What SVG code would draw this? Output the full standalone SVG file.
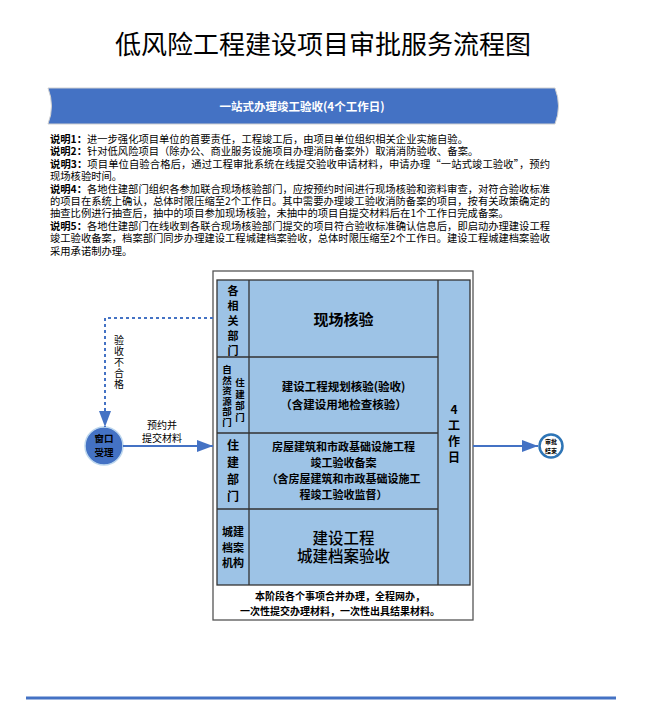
<svg xmlns="http://www.w3.org/2000/svg" width="645" height="708" viewBox="0 0 645 708">
<style>
text{font-family:"Noto Sans CJK SC","Liberation Sans",sans-serif;fill:#000}
.title{font-size:26px}
.note{font-size:10.3px}
.b{font-weight:bold}
.cell{font-weight:bold;font-size:11.5px;text-anchor:middle}
.lab{font-weight:bold;font-size:11px;text-anchor:middle}
.vert{writing-mode:vertical-rl;font-weight:bold}
.small{font-size:10px;text-anchor:middle}
.blue{fill:#9DC3E6;stroke:#333;stroke-width:1.3}
.div{stroke:#333;stroke-width:1.3;fill:none}
.conn{stroke:#4472C4;stroke-width:2;fill:none}
</style>
<defs>
<marker id="ah" viewBox="0 0 16 12" refX="16" refY="6" markerWidth="16" markerHeight="12" markerUnits="userSpaceOnUse" orient="auto">
<path d="M0,0 L16,6 L0,12 Z" fill="#4472C4"/>
</marker>
</defs>
<rect width="645" height="708" fill="#fff"/>
<text class="title" x="323" y="54" text-anchor="middle">低风险工程建设项目审批服务流程图</text>
<g id="banner">
<path d="M48,88 L555,88 Q562,106 555,124 L48,124 Q55,106 48,88 Z" fill="#4472C4" stroke="#D0D0D0" stroke-width="1"/>
<text x="302" y="111" text-anchor="middle" style="font-size:11.5px;font-weight:bold;fill:#fff">一站式办理竣工验收(4个工作日)</text>
</g>
<g id="notes" class="note">
<text x="50" y="143"><tspan class="b">说明1：</tspan>进一步强化项目单位的首要责任，工程竣工后，由项目单位组织相关企业实施自验。</text>
<text x="50" y="155.4"><tspan class="b">说明2：</tspan>针对低风险项目（除办公、商业服务设施项目办理消防备案外）取消消防验收、备案。</text>
<text x="50" y="167.8" textLength="500" lengthAdjust="spacing"><tspan class="b">说明3：</tspan>项目单位自验合格后，通过工程审批系统在线提交验收申请材料，申请办理“一站式竣工验收”，预约</text>
<text x="50" y="180.2">现场核验时间。</text>
<text x="50" y="192.6" textLength="500" lengthAdjust="spacing"><tspan class="b">说明4：</tspan>各地住建部门组织各参加联合现场核验部门，应按预约时间进行现场核验和资料审查，对符合验收标准</text>
<text x="50" y="205" textLength="500" lengthAdjust="spacing">的项目在系统上确认，总体时限压缩至2个工作日。其中需要办理竣工验收消防备案的项目，按有关政策确定的</text>
<text x="50" y="217.4">抽查比例进行抽查后，抽中的项目参加现场核验，未抽中的项目自提交材料后在1个工作日完成备案。</text>
<text x="50" y="229.8" textLength="500" lengthAdjust="spacing"><tspan class="b">说明5：</tspan>各地住建部门在线收到各联合现场核验部门提交的项目符合验收标准确认信息后，即启动办理建设工程</text>
<text x="50" y="242.2" textLength="500" lengthAdjust="spacing">竣工验收备案，档案部门同步办理建设工程城建档案验收，总体时限压缩至2个工作日。建设工程城建档案验收</text>
<text x="50" y="254.6">采用承诺制办理。</text>
</g>
<g id="stage-box">
<rect x="213" y="271" width="260" height="349" fill="#fff" stroke="#555" stroke-width="1.3"/>
<rect class="blue" x="217" y="280" width="253" height="305"/>
<path class="div" d="M249,280 V585 M438,280 V585 M217,357 H438 M217,433 H438 M217,509 H438"/>
<text class="small b" x="340" y="600" style="font-size:10px">本阶段各个事项合并办理，全程网办，</text>
<text class="small b" x="340" y="615" style="font-size:10px">一次性提交办理材料，一次性出具结果材料。</text>
</g>
<g id="row1">
<text class="vert" x="233" y="285" style="font-size:11px;letter-spacing:4px">各相关部门</text>
<text class="cell" x="343.5" y="325" style="font-size:15px">现场核验</text>
</g>
<g id="row2">
<text class="vert" x="227" y="365" style="font-size:9.5px;letter-spacing:1px">自然资源部门</text>
<text class="vert" x="240" y="378" style="font-size:9.5px;letter-spacing:2px">住建部门</text>
<text class="cell" x="343.5" y="391">建设工程规划核验(验收)</text>
<text class="cell" x="343.5" y="409">（含建设用地检查核验）</text>
</g>
<g id="row3">
<text class="vert" x="233" y="439" style="font-size:12px;letter-spacing:5px">住建部门</text>
<text class="cell" x="343.5" y="451" style="font-size:11px">房屋建筑和市政基础设施工程</text>
<text class="cell" x="343.5" y="467" style="font-size:11px">竣工验收备案</text>
<text class="cell" x="343.5" y="483" style="font-size:11px">（含房屋建筑和市政基础设施工</text>
<text class="cell" x="343.5" y="499" style="font-size:11px">程竣工验收监督）</text>
</g>
<g id="row4">
<text class="lab" x="233" y="536">城建</text>
<text class="lab" x="233" y="552">档案</text>
<text class="lab" x="233" y="567">机构</text>
<text x="343.5" y="544" text-anchor="middle" style="font-size:15.5px;font-weight:500">建设工程</text>
<text x="343.5" y="562" text-anchor="middle" style="font-size:15.5px;font-weight:500">城建档案验收</text>
</g>
<g id="duration">
<text class="vert" x="454" y="403" style="font-size:12px;letter-spacing:4px;text-orientation:upright">4工作日</text>
</g>
<g id="start">
<circle cx="104" cy="446" r="19" fill="#4472C4" stroke="#BDD7EE" stroke-width="1.5"/>
<text class="lab" x="104" y="442" style="font-size:9.5px">窗口</text>
<text class="lab" x="104" y="456" style="font-size:9.5px">受理</text>
</g>
<g id="end">
<circle cx="551" cy="446" r="11.5" fill="#fff" stroke="#2E75B6" stroke-width="2.5"/>
<text class="lab" x="551" y="443.5" style="font-size:6px">审批</text>
<text class="lab" x="551" y="452.5" style="font-size:6px">结束</text>
</g>
<g id="connectors">
<line class="conn" x1="123" y1="446" x2="213" y2="446" marker-end="url(#ah)"/>
<line class="conn" x1="473" y1="446" x2="538" y2="446" marker-end="url(#ah)"/>
<path class="conn" d="M213,318 H105 V427" stroke-dasharray="3,3" marker-end="url(#ah)"/>
<text class="small" x="162" y="429">预约并</text>
<text class="small" x="162" y="442">提交材料</text>
<text class="vert" x="119" y="335" style="font-size:10px;letter-spacing:1px;font-weight:normal">验收不合格</text>
</g>
<line x1="26" y1="698" x2="616" y2="698" stroke="#4472C4" stroke-width="3"/>
</svg>
